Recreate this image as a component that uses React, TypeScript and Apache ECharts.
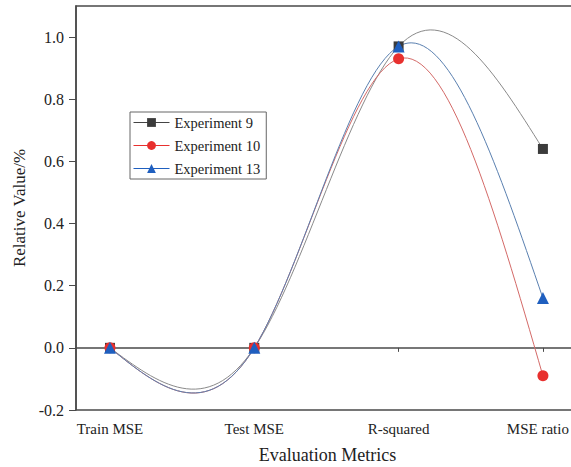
import React, { useEffect, useRef } from "react";
import * as echarts from "echarts";

const categories = ["Train MSE", "Test MSE", "R-squared", "MSE ratio"];
const exp9 = [0, 0, 0.97, 0.64];
const exp10 = [0, 0, 0.93, -0.09];
const exp13 = [0, 0, 0.97, 0.16];
const yTicks = [-0.2, 0, 0.2, 0.4, 0.6, 0.8, 1.0];
const xTicks = [1, 2, 3, 4];

const FONT = "'Liberation Serif', 'Times New Roman', serif";

// natural cubic spline second derivatives (uniform spacing h = 1)
function naturalM(y: number[]): number[] {
  const n = y.length;
  const M = new Array(n).fill(0);
  if (n < 3) return M;
  const m = n - 2;
  const a: number[] = [], b: number[] = [], c: number[] = [], d: number[] = [];
  for (let i = 1; i <= m; i++) {
    a.push(1); b.push(4); c.push(1);
    d.push(6 * (y[i - 1] - 2 * y[i] + y[i + 1]));
  }
  for (let i = 1; i < m; i++) {
    const w = a[i] / b[i - 1];
    b[i] -= w * c[i - 1];
    d[i] -= w * d[i - 1];
  }
  const x = new Array(m).fill(0);
  x[m - 1] = d[m - 1] / b[m - 1];
  for (let i = m - 2; i >= 0; i--) x[i] = (d[i] - c[i] * x[i + 1]) / b[i];
  for (let i = 0; i < m; i++) M[i + 1] = x[i];
  return M;
}

function splineSeries(name: string, values: number[], color: string) {
  const M = naturalM(values);
  return {
    type: "custom",
    name,
    z: 1,
    silent: true,
    data: values.map((v, i) => [i + 1, v]),
    encode: { x: 0, y: 1 },
    renderItem: (params: any, api: any) => {
      const i = params.dataIndex;
      if (i >= values.length - 1) return null;
      const x0 = i + 1, x1 = i + 2;
      const y0 = values[i], y1 = values[i + 1];
      const dy = y1 - y0;
      const d0 = dy - (2 * M[i] + M[i + 1]) / 6;
      const d1 = dy + (M[i] + 2 * M[i + 1]) / 6;
      const p0 = api.coord([x0, y0]);
      const p1 = api.coord([x1, y1]);
      const c0 = api.coord([x0 + 1 / 3, y0 + d0 / 3]);
      const c1 = api.coord([x1 - 1 / 3, y1 - d1 / 3]);
      return {
        type: "bezierCurve",
        shape: {
          x1: p0[0], y1: p0[1], x2: p1[0], y2: p1[1],
          cpx1: c0[0], cpy1: c0[1], cpx2: c1[0], cpy2: c1[1],
        },
        style: { stroke: color, lineWidth: 1, fill: null },
      };
    },
  };
}

function markerSeries(name: string, values: number[], symbol: string, size: number, color: string) {
  return {
    type: "line",
    name,
    z: 3,
    data: values.map((v, i) => [i + 1, v]),
    symbol,
    symbolSize: size,
    showSymbol: true,
    itemStyle: { color },
    lineStyle: { width: 0, opacity: 0, color },
  };
}

export default function App() {
  const ref = useRef<HTMLDivElement>(null);
  useEffect(() => {
    if (!ref.current) return;
    const chart = echarts.init(ref.current, null, { renderer: "svg" });
    chart.setOption({
      animation: false,
      backgroundColor: "#ffffff",
      grid: {
        left: 76,
        top: 6,
        right: 21,
        bottom: 57,
        show: true,
        borderColor: "#4a4a4a",
        borderWidth: 1.5,
        outerBoundsMode: "none",
      },
      legend: {
        orient: "vertical",
        left: 130,
        top: 112,
        itemWidth: 36,
        itemHeight: 11,
        itemGap: 8,
        padding: [3, 6, 3, 3],
        borderColor: "#666",
        borderWidth: 1,
        textStyle: { fontFamily: FONT, fontSize: 14.5, color: "#222" },
        data: [
          { name: "Experiment 9", lineStyle: { color: "#444", width: 1, opacity: 1 } },
          { name: "Experiment 10", lineStyle: { color: "#e8302e", width: 1, opacity: 1 } },
          { name: "Experiment 13", lineStyle: { color: "#1f5fbf", width: 1, opacity: 1 } },
        ],
      },
      xAxis: {
        type: "value",
        min: 0.7646,
        max: 4.25,
        name: "Evaluation Metrics",
        nameLocation: "middle",
        nameGap: 36,
        nameTextStyle: { fontFamily: FONT, fontSize: 18, color: "#222" },
        splitLine: { show: false },
        axisLine: { lineStyle: { color: "#4a4a4a", width: 1.5 } },
        axisTick: { customValues: xTicks, length: 4, lineStyle: { color: "#4a4a4a" } },
        axisLabel: {
          customValues: xTicks,
          margin: 11,
          fontFamily: FONT,
          fontSize: 15,
          color: "#222",
          formatter: (v: number) => {
            const idx = Math.round(v) - 1;
            const t = categories[idx] ?? "";
            return idx === categories.length - 1 ? "{r|" + t + "}" : t;
          },
          rich: {
            r: { fontFamily: FONT, fontSize: 15, color: "#222", padding: [0, 10, 0, 0] },
          },
        },
      },
      yAxis: {
        type: "value",
        min: -0.2,
        max: 1.1,
        name: "Relative Value/%",
        nameLocation: "middle",
        nameGap: 48,
        nameTextStyle: { fontFamily: FONT, fontSize: 17, color: "#222" },
        splitLine: { show: false },
        axisLine: { show: true, lineStyle: { color: "#4a4a4a", width: 1.5 } },
        axisTick: { show: true, customValues: yTicks, length: 7, lineStyle: { color: "#4a4a4a" } },
        axisLabel: {
          customValues: yTicks,
          margin: 12,
          fontFamily: FONT,
          fontSize: 16,
          color: "#222",
          formatter: (v: number) => v.toFixed(1),
        },
      },
      series: [
        markerSeries("Experiment 9", exp9, "rect", 10, "#3b3b3b"),
        markerSeries("Experiment 10", exp10, "circle", 11, "#e8302e"),
        markerSeries("Experiment 13", exp13, "triangle", 12, "#1f5fbf"),
        splineSeries("Experiment 9", exp9, "#8a8a8a"),
        splineSeries("Experiment 10", exp10, "#d46a68"),
        splineSeries("Experiment 13", exp13, "#5a80b0"),
      ],
    });
    return () => chart.dispose();
  }, []);
  return (
    <div
      ref={ref}
      style={{ position: "fixed", left: 0, top: 0, width: 600, height: 467 }}
    />
  );
}
